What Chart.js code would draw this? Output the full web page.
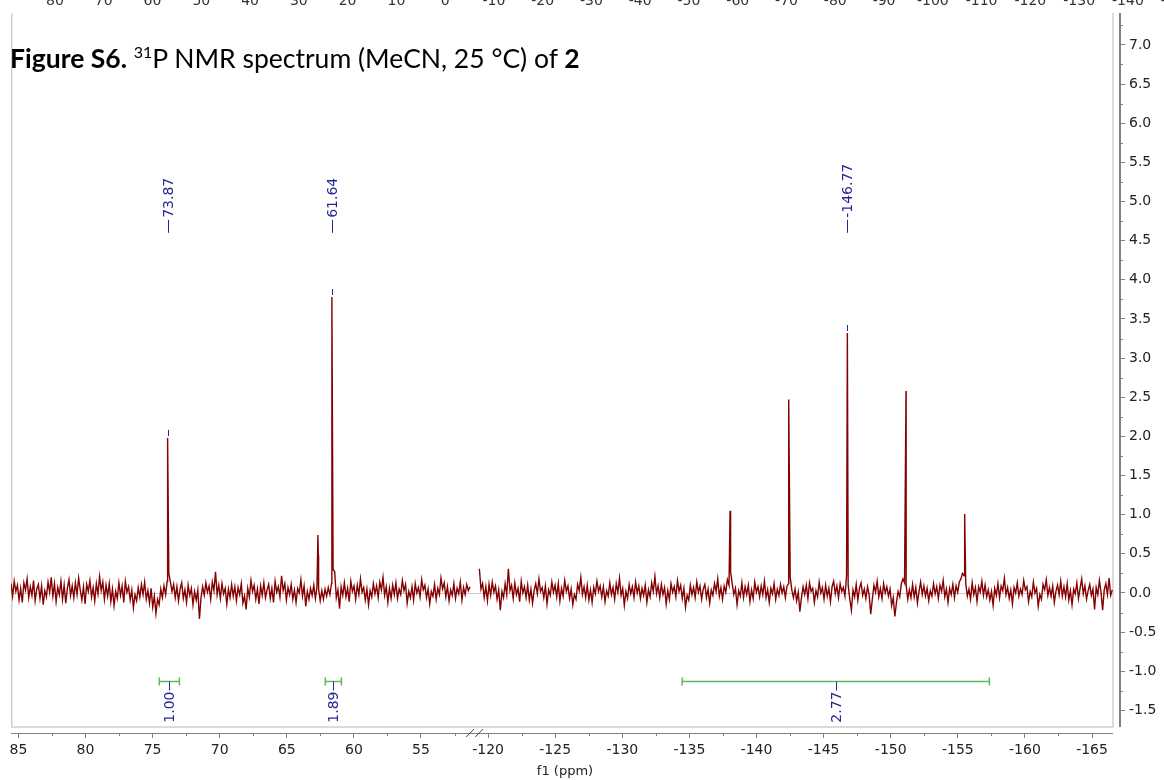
<!DOCTYPE html>
<html>
<head>
<meta charset="utf-8">
<script src="https://cdn.jsdelivr.net/npm/chart.js@4.4.0/dist/chart.umd.min.js"></script>
<style>
  html, body { margin: 0; padding: 0; background: #fff; }
  #wrap { position: relative; width: 1164px; height: 780px; }
  #title { position: absolute; left: 10px; top: 45px; font-family: Lato, "Open Sans", sans-serif;
           font-size: 26.5px; line-height: 1; color: #000; white-space: nowrap; }
  #title sup { font-size: 16px; vertical-align: 10px; line-height: 0; }
</style>
</head>
<body>
<div id="wrap">
  <canvas id="c" width="1164" height="780"></canvas>
  <div id="title"><b>Figure S6.</b> <sup>31</sup>P NMR spectrum (MeCN, 25 °C) of <b>2</b></div>
</div>
<script>
// broken ppm axis: left piece 85.55..51, right piece -119..-166.57
const LEFT_EDGE = 85.55;
const BREAK_LEFT = 51.0;
const BREAK_RIGHT = -119.0;
const RIGHT_EDGE = -166.57;
const X_MAX_U = 82.56;
const Y_MIN = -1.788, Y_MAX = 7.407;
const AXIS_GAP = 6;

const PPM_STEP = 0.12;
const leftStart = 85.55;
const leftNoise = [
  0.12,-0.04,0.15,0.02,0.10,-0.09,0.06,-0.12,0.13,0.04,0.18,-0.06,0.08,-0.03,0.16,-0.10,0.05,0.11,-0.07,0.09,
  -0.15,0.03,-0.05,0.14,0.01,0.20,-0.04,0.12,-0.11,0.07,-0.02,0.15,-0.08,0.10,-0.13,0.06,0.17,-0.03,0.09,-0.06,
  0.13,-0.02,0.19,0.04,-0.09,0.08,-0.14,0.11,0.02,0.16,-0.05,0.07,-0.10,0.12,-0.01,0.21,0.03,0.14,-0.08,0.10,
  -0.04,0.12,-0.11,0.05,-0.16,0.02,-0.07,0.13,-0.03,0.09,-0.12,0.15,0.01,0.08,-0.09,0.04,-0.19,-0.02,-0.10,0.07,
  -0.05,0.11,-0.02,0.14,-0.08,0.03,-0.13,0.06,-0.18,-0.04,-0.26,-0.08,-0.15,0.05,-0.06,0.09,-0.02,0.15,0.25,0.14,
  0.02,0.11,-0.06,0.08,-0.10,0.05,0.13,-0.07,0.04,-0.12,0.10,-0.03,0.06,-0.15,0.02,-0.09,0.04,-0.33,-0.06,0.08,
  -0.03,0.13,0.01,0.09,-0.08,0.14,0.03,0.27,-0.02,0.10,-0.07,0.12,-0.01,0.06,-0.14,0.05,-0.06,0.11,-0.04,0.08,
  -0.10,0.07,-0.02,0.12,-0.13,-0.04,-0.21,0.06,-0.05,0.16,0.02,0.10,-0.08,0.05,-0.14,0.09,-0.03,0.13,-0.06,0.04,
  0.11,-0.07,0.06,-0.12,0.15,0.01,0.08,-0.05,0.22,0.03,0.12,-0.09,0.07,-0.02,0.11,-0.08,0.04,-0.12,0.06,0.00,
  0.17,-0.04,0.09,-0.17,0.02,-0.08,0.06,-0.03,0.10,-0.07,0.08,0.05,-0.10,0.03,-0.08,0.05,-0.04,0.07,-0.02,0.12,
  0.30,0.27,-0.06,0.04,-0.20,0.08,-0.03,0.13,-0.05,0.06,-0.11,0.15,0.02,0.09,-0.08,0.10,-0.02,0.18,0.01,0.07,
  -0.09,0.05,-0.15,0.03,-0.05,0.12,-0.01,0.09,-0.06,0.14,0.04,0.20,-0.03,0.08,-0.12,0.06,-0.07,0.10,-0.02,0.13,
  -0.07,0.05,-0.02,0.16,0.03,0.11,-0.13,0.02,-0.06,0.08,-0.09,0.12,0.00,0.07,-0.05,0.17,0.04,0.10,-0.06,0.05,
  -0.14,0.02,-0.04,0.11,-0.08,0.06,-0.02,0.19,0.05,0.13,-0.05,0.08,-0.10,0.04,-0.03,0.12,-0.07,0.06,-0.01,0.14,
  -0.09,0.07,-0.02,0.11,0.03,0.08
];
const rightStart = -119.35;
const rightNoise = [
  0.31,0.05,0.12,-0.06,0.08,-0.10,0.11,-0.03,0.14,0.01,0.09,-0.08,0.04,-0.22,0.02,-0.06,0.12,-0.02,0.31,0.03,
  0.10,-0.07,0.13,-0.02,0.06,-0.11,0.15,0.00,0.08,-0.06,0.10,-0.09,0.05,-0.13,0.03,0.12,-0.01,0.18,0.02,0.07,
  -0.06,0.09,-0.14,0.04,-0.03,0.14,0.01,0.10,-0.05,0.12,-0.10,0.06,-0.04,0.16,0.02,0.09,-0.07,0.05,-0.15,-0.02,
  -0.08,0.11,0.03,0.20,-0.02,0.08,-0.06,0.10,-0.09,0.04,-0.12,0.07,-0.01,0.15,0.02,0.09,-0.05,0.08,-0.11,0.03,
  -0.04,0.13,-0.02,0.07,-0.08,0.12,0.01,0.19,-0.03,0.06,-0.16,0.02,-0.07,0.11,-0.01,0.08,-0.06,0.14,0.00,0.09,
  -0.07,0.06,-0.03,0.10,-0.12,0.04,-0.05,0.13,0.02,0.21,-0.01,0.09,-0.06,0.11,-0.02,0.07,-0.14,0.03,-0.08,0.12,
  0.01,0.08,-0.05,0.16,0.02,0.10,-0.07,0.06,-0.18,-0.03,-0.09,0.10,-0.02,0.07,-0.06,0.14,0.01,0.09,-0.08,0.05,
  0.11,-0.06,0.05,-0.13,0.04,-0.03,0.12,0.02,0.18,-0.04,0.07,-0.08,0.09,0.01,0.17,0.10,0.27,0.12,-0.02,0.06,
  -0.15,0.03,-0.04,0.13,-0.06,0.08,-0.02,0.10,-0.11,0.04,-0.07,0.14,0.01,0.08,-0.05,0.09,-0.02,0.15,-0.06,0.04,
  -0.12,0.06,-0.01,0.12,-0.08,0.05,-0.03,0.11,0.00,0.08,-0.06,0.09,0.12,0.20,0.04,-0.06,0.05,-0.10,0.01,-0.24,
  -0.06,0.08,-0.02,0.10,-0.07,0.13,0.02,0.06,-0.12,0.03,-0.05,0.14,0.00,0.07,-0.08,0.10,-0.04,0.06,-0.11,0.08,
  0.15,-0.01,0.09,-0.06,0.12,0.02,0.07,-0.04,0.22,0.10,-0.08,-0.22,0.04,-0.05,0.11,-0.09,0.06,0.13,-0.03,0.05,
  -0.07,0.08,-0.02,-0.27,-0.08,0.10,0.01,0.15,-0.05,0.06,-0.07,0.12,0.00,0.08,-0.04,0.05,-0.16,-0.06,-0.30,-0.12,
  0.02,-0.05,0.12,0.18,0.13,0.10,-0.08,0.04,-0.06,0.11,-0.05,0.07,-0.13,0.02,0.14,-0.02,0.09,-0.04,0.06,-0.10,
  0.03,-0.04,0.12,-0.01,0.08,-0.07,0.10,0.02,0.16,-0.05,0.05,-0.12,0.06,-0.02,0.11,-0.06,0.09,0.01,0.14,0.18,
  0.25,0.22,0.12,-0.04,0.05,-0.08,0.13,-0.02,0.07,-0.11,0.08,0.01,0.15,-0.03,0.10,-0.05,0.04,-0.09,0.02,-0.16,
  0.06,-0.03,0.12,-0.06,0.09,0.03,0.19,-0.02,0.07,-0.07,0.04,-0.14,0.07,0.00,0.13,-0.04,0.05,-0.02,0.16,0.04,
  0.08,-0.11,0.02,-0.05,0.14,0.00,0.06,-0.17,-0.02,-0.08,0.11,0.04,0.17,-0.03,0.07,-0.04,0.09,-0.12,0.02,0.10,
  -0.02,0.15,-0.04,0.08,-0.05,0.12,-0.09,0.03,-0.15,0.05,-0.01,0.13,-0.07,0.06,0.18,-0.01,0.09,-0.08,0.03,0.11,
  -0.03,0.05,-0.21,0.07,-0.02,0.16,0.01,-0.22,0.04,0.12,-0.02,0.19,-0.03,0.04
];

const leftPeakPpm = [73.89, 73.87, 62.68, 62.65, 61.64];
const leftPeakInt = [1.72, 1.98, 0.74, 0.48, 3.78];
const rightPeakPpm = [-138.03, -142.40, -146.77, -151.14, -155.51];
const rightPeakInt = [1.05, 2.47, 3.32, 2.58, 1.01];

const peakLabels = [73.87, 61.64, -146.77];
const PEAK_LABEL_BASE = 4.6;
const integFrom = [74.50, 62.13, -134.46];
const integTo = [73.00, 60.93, -157.35];
const integVals = ['1.00', '1.89', '2.77'];
const INTEG_LEVEL = -1.13;

const xMajor = [85, 80, 75, 70, 65, 60, 55, -120, -125, -130, -135, -140, -145, -150, -155, -160, -165];
const xMinor = [82.5, 77.5, 72.5, 67.5, 62.5, 57.5, 52.5, -122.5, -127.5, -132.5, -137.5, -142.5, -147.5, -152.5, -157.5, -162.5];
const yMajor = [-1.5, -1, -0.5, 0, 0.5, 1, 1.5, 2, 2.5, 3, 3.5, 4, 4.5, 5, 5.5, 6, 6.5, 7];
const yMinor = [-1.25, -0.75, -0.25, 0.25, 0.75, 1.25, 1.75, 2.25, 2.75, 3.25, 3.75, 4.25, 4.75, 5.25, 5.75, 6.25, 6.75, 7.25];

// axis of the figure above, cut off by the top of the page
const topTicks = [80, 70, 60, 50, 40, 30, 20, 10, 0, -10, -20, -30, -40, -50, -60, -70, -80, -90, -100, -110, -120, -130, -140, -150];
const TOP_MIN = -138.17, TOP_MAX = 89.02;

const RED = '#850000', BLUE = '#262696', GREEN = '#5cb85c', AXIS = '#808080';

function toU(ppm) {
  return ppm > 0 ? LEFT_EDGE - ppm : (LEFT_EDGE - BREAK_LEFT) + (BREAK_RIGHT - ppm);
}

function buildPoints(start, noise, pkPpm, pkInt) {
  const pts = noise.map((v, i) => ({ppm: start - i * PPM_STEP, y: v}));
  pkPpm.forEach((p, i) => pts.push({ppm: p, y: pkInt[i]}));
  pts.sort((a, b) => b.ppm - a.ppm);
  return pts.map(p => ({x: toU(p.ppm), y: p.y}));
}

function peakHeight(ppm) {
  let i = leftPeakPpm.indexOf(ppm);
  if (i >= 0) return leftPeakInt[i];
  i = rightPeakPpm.indexOf(ppm);
  return i >= 0 ? rightPeakInt[i] : 0;
}

const decor = {
  id: 'decor',
  beforeDatasetsDraw(chart) {
    const {ctx, chartArea: ca, scales: {y}} = chart;
    const fr = ca.right - AXIS_GAP, fb = ca.bottom - AXIS_GAP;
    ctx.save();
    ctx.strokeStyle = '#d0d0d0'; ctx.lineWidth = 1.5;
    ctx.beginPath();
    ctx.moveTo(ca.left + 0.75, ca.top); ctx.lineTo(ca.left + 0.75, fb);
    ctx.lineTo(fr, fb); ctx.lineTo(fr, ca.top);
    ctx.stroke();
    const y0 = Math.round(y.getPixelForValue(0)) + 0.5;
    ctx.strokeStyle = '#c8c8c8'; ctx.lineWidth = 1;
    ctx.beginPath(); ctx.moveTo(ca.left, y0); ctx.lineTo(fr, y0); ctx.stroke();
    ctx.restore();
  },
  afterDatasetsDraw(chart) {
    const {ctx, chartArea: ca, scales: {x, y, xTop}} = chart;
    const fr = ca.right - AXIS_GAP, fb = ca.bottom - AXIS_GAP;
    ctx.save();

    // axis lines + minor ticks
    ctx.strokeStyle = AXIS;
    ctx.lineWidth = 2;
    ctx.beginPath(); ctx.moveTo(ca.right + 1, ca.top); ctx.lineTo(ca.right + 1, fb); ctx.stroke();
    ctx.lineWidth = 1;
    ctx.beginPath(); ctx.moveTo(ca.left, ca.bottom + 0.5); ctx.lineTo(fr, ca.bottom + 0.5); ctx.stroke();
    ctx.beginPath();
    yMinor.forEach(v => { const py = Math.round(y.getPixelForValue(v)) + 0.5; ctx.moveTo(ca.right, py); ctx.lineTo(ca.right + 4, py); });
    xMinor.forEach(p => { const px = Math.round(x.getPixelForValue(toU(p))) + 0.5; ctx.moveTo(px, ca.bottom); ctx.lineTo(px, ca.bottom + 3); });
    ctx.stroke();

    // axis break mark
    const bx = x.getPixelForValue(LEFT_EDGE - BREAK_LEFT);
    ctx.strokeStyle = '#444';
    ctx.beginPath();
    [-4.5, 4.5].forEach(d => { ctx.moveTo(bx + d - 4, ca.bottom + 4); ctx.lineTo(bx + d + 4, ca.bottom - 4); });
    ctx.stroke();

    // peak picks
    ctx.fillStyle = BLUE; ctx.strokeStyle = BLUE; ctx.lineWidth = 1;
    ctx.font = '14px "DejaVu Sans"';
    ctx.textBaseline = 'middle';
    peakLabels.forEach(p => {
      const px = Math.round(x.getPixelForValue(toU(p))) + 0.5;
      const h = peakHeight(p);
      const base = y.getPixelForValue(PEAK_LABEL_BASE);
      ctx.beginPath();
      ctx.moveTo(px, base); ctx.lineTo(px, base - 13);
      ctx.moveTo(px, y.getPixelForValue(h) - 2); ctx.lineTo(px, y.getPixelForValue(h) - 8);
      ctx.stroke();
      ctx.save();
      ctx.translate(px, base - 15); ctx.rotate(-Math.PI / 2);
      ctx.textAlign = 'left';
      ctx.fillText(p.toFixed(2), 0, 1);
      ctx.restore();
    });

    // integrals
    const iy = Math.round(y.getPixelForValue(INTEG_LEVEL)) + 0.5;
    integFrom.forEach((a, i) => {
      const x1 = x.getPixelForValue(toU(a)), x2 = x.getPixelForValue(toU(integTo[i]));
      ctx.strokeStyle = GREEN; ctx.lineWidth = 1.5;
      ctx.beginPath();
      ctx.moveTo(x1, iy); ctx.lineTo(x2, iy);
      ctx.moveTo(x1, iy - 4); ctx.lineTo(x1, iy + 4);
      ctx.moveTo(x2, iy - 4); ctx.lineTo(x2, iy + 4);
      ctx.stroke();
      const cx = Math.round((x1 + x2) / 2) + 0.5;
      ctx.strokeStyle = BLUE; ctx.lineWidth = 1;
      ctx.beginPath(); ctx.moveTo(cx, iy); ctx.lineTo(cx, iy + 9); ctx.stroke();
      ctx.save();
      ctx.translate(cx, iy + 10); ctx.rotate(-Math.PI / 2);
      ctx.textAlign = 'right';
      ctx.fillText(integVals[i], 0, 1);
      ctx.restore();
    });

    // leftover labels along the top edge
    ctx.fillStyle = '#333';
    ctx.font = '14px "DejaVu Sans"';
    ctx.textAlign = 'center'; ctx.textBaseline = 'alphabetic';
    topTicks.forEach(v => ctx.fillText(String(v), xTop.getPixelForValue(v), 5));
    ctx.restore();
  }
};

const lineStyle = { borderColor: RED, borderWidth: 1.4, pointRadius: 0, tension: 0, fill: false };

new Chart(document.getElementById('c'), {
  type: 'line',
  data: {
    datasets: [
      Object.assign({ data: buildPoints(leftStart, leftNoise, leftPeakPpm, leftPeakInt) }, lineStyle),
      Object.assign({ data: buildPoints(rightStart, rightNoise, rightPeakPpm, rightPeakInt) }, lineStyle)
    ]
  },
  options: {
    responsive: false,
    animation: false,
    devicePixelRatio: 1,
    layout: { padding: { left: 11, top: 13, right: 0, bottom: 0 } },
    plugins: { legend: { display: false }, tooltip: { enabled: false } },
    scales: {
      x: {
        type: 'linear', position: 'bottom', min: 0, max: X_MAX_U,
        afterBuildTicks: s => { s.ticks = xMajor.map(p => ({ value: toU(p) })); },
        afterFit: s => { s.height = 47; },
        ticks: { autoSkip: false, maxRotation: 0, padding: 4, color: '#222',
                 font: { family: 'DejaVu Sans', size: 14 }, callback: (v, i) => String(xMajor[i]) },
        grid: { drawOnChartArea: false, drawTicks: true, tickLength: 5, color: AXIS },
        border: { display: false },
        title: { display: true, text: 'f1 (ppm)', color: '#222',
                 font: { family: 'DejaVu Sans', size: 13 }, padding: { top: 0, bottom: 1 } }
      },
      y: {
        type: 'linear', position: 'right', min: Y_MIN, max: Y_MAX,
        afterBuildTicks: s => { s.ticks = yMajor.map(v => ({ value: v })); },
        afterFit: s => { s.width = 45; },
        ticks: { padding: 4, color: '#222', font: { family: 'DejaVu Sans', size: 14 },
                 callback: v => v.toFixed(1) },
        grid: { drawOnChartArea: false, drawTicks: true, tickLength: 6, color: AXIS },
        border: { display: false }
      },
      xTop: { type: 'linear', position: 'top', display: false, min: TOP_MIN, max: TOP_MAX, reverse: true }
    }
  },
  plugins: [decor]
});
</script>
</body>
</html>
